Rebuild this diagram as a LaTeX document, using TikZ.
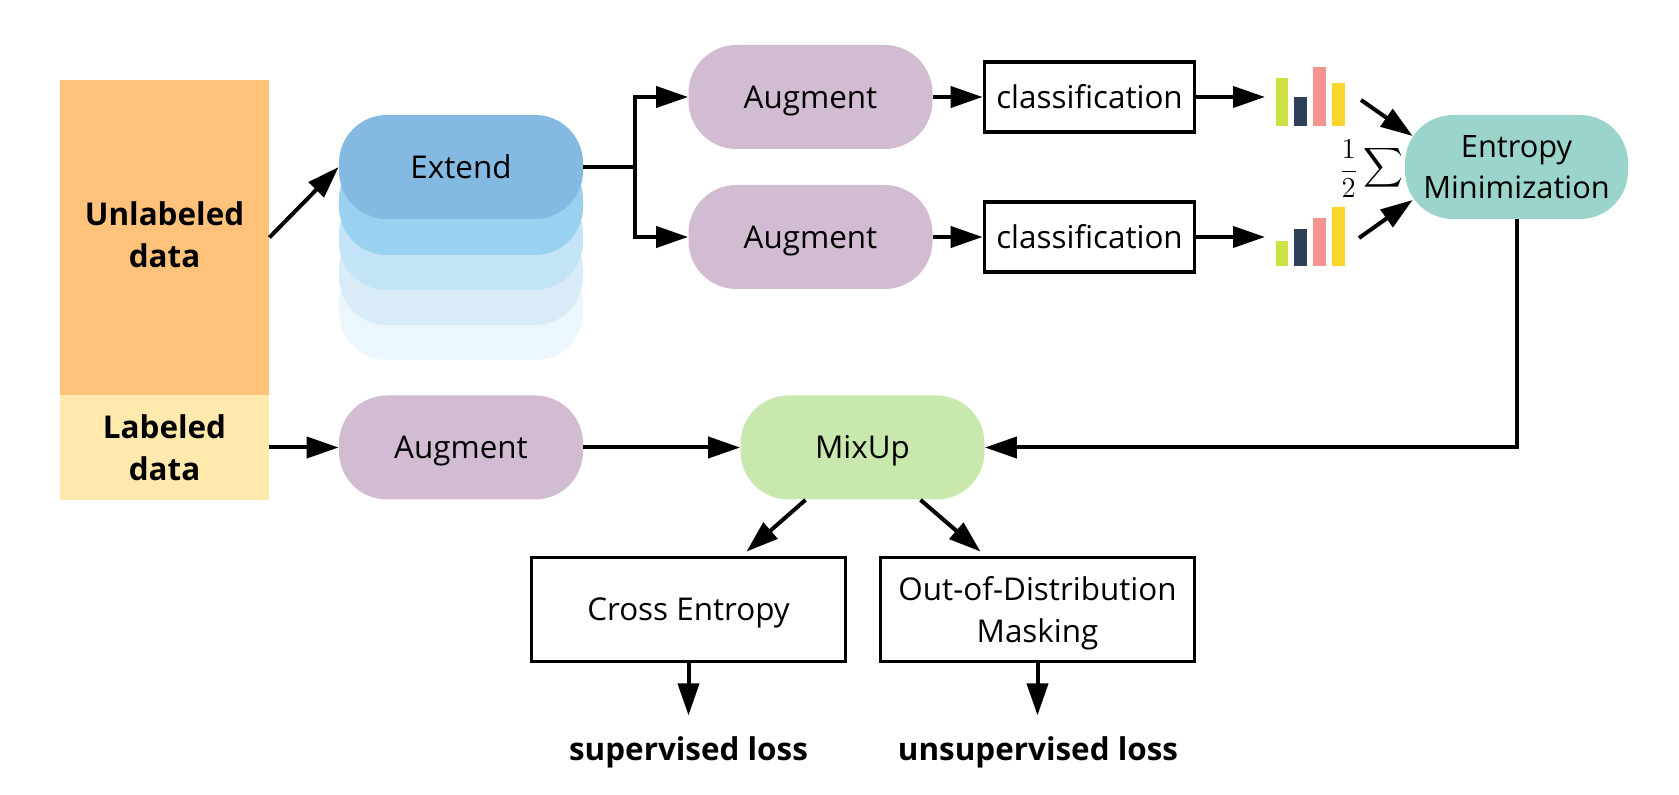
\documentclass[tikz,border=0pt]{standalone}
\usepackage{fontspec}
\usepackage{graphicx}
\setmainfont{Open Sans}
\usetikzlibrary{arrows.meta,calc}
\definecolor{cUnl}{HTML}{FFC27A}
\definecolor{cLab}{HTML}{FFE9AC}
\definecolor{cExt}{HTML}{84B9E1}
\definecolor{cLa}{HTML}{9AD0F0}
\definecolor{cLb}{HTML}{C3E3F6}
\definecolor{cLc}{HTML}{D9EBF6}
\definecolor{cLd}{HTML}{EBF6FD}
\definecolor{cAug}{HTML}{D2BCD2}
\definecolor{cEnt}{HTML}{9AD4CA}
\definecolor{cMix}{HTML}{C8E8AE}
\definecolor{bA}{HTML}{CDE143}
\definecolor{bB}{HTML}{2E4057}
\definecolor{bC}{HTML}{F59391}
\definecolor{bD}{HTML}{FBD42E}
\tikzset{
  every node/.style={font=\fontsize{15.7pt}{20.8pt}\selectfont,align=center,inner sep=0pt},
  oneline/.style={text height=11.2pt,text depth=0pt},
  pill/.style={rectangle,rounded corners=24pt,minimum width=122pt,minimum height=52pt},
  datablock/.style={rectangle,minimum width=104.5pt,font=\fontsize{15.7pt}{20.8pt}\selectfont\bfseries},
  classbox/.style={rectangle,draw=black,line width=1.9pt,minimum width=105pt,minimum height=35pt,oneline},
  lossbox/.style={rectangle,draw=black,line width=1.9pt,minimum width=157pt,minimum height=52pt},
  losslabel/.style={font=\fontsize{15.7pt}{20.8pt}\selectfont\bfseries,oneline},
  conn/.style={line width=2pt,-{Triangle[length=16pt,width=10.5pt]}},
  plainline/.style={line width=2pt},
}
\begin{document}
\begin{tikzpicture}[x=.5pt,y=-.5pt]
\useasboundingbox[fill=white] (0,0) rectangle (1679,795);
% data blocks
\node[datablock,fill=cUnl,minimum height=157.5pt,text depth=3pt] (unl) at (164.5,237.5) {Unlabeled\\data};
\node[datablock,fill=cLab,minimum height=52.5pt] (lab) at (164.5,447.5) {Labeled\\data};
% extend stack
\node[pill,fill=cLd] (l4) at (461,308) {};
\node[pill,fill=cLc] (l3) at (461,273) {};
\node[pill,fill=cLb] (l2) at (461,238) {};
\node[pill,fill=cLa] (l1) at (461,203) {};
\node[pill,fill=cExt,oneline] (ext) at (461,167) {Extend};
% augment
\node[pill,fill=cAug,oneline] (aug1) at (810.5,97) {Augment};
\node[pill,fill=cAug,oneline] (aug2) at (810.5,237) {Augment};
\node[pill,fill=cAug,oneline] (aug3) at (461,447.5) {Augment};
% classification
\node[classbox] (cl1) at (1089.5,97) {classification};
\node[classbox] (cl2) at (1089.5,237) {classification};
% bars
\fill[bA] (1276,78) rectangle (1288,126);
\fill[bB] (1294,97) rectangle (1307,126);
\fill[bC] (1313,67) rectangle (1326,126);
\fill[bD] (1332,83) rectangle (1345,126);
\fill[bA] (1276,241) rectangle (1288,266);
\fill[bB] (1294,229) rectangle (1307,266);
\fill[bC] (1313,218) rectangle (1326,266);
\fill[bD] (1332,207) rectangle (1345,266);
\coordinate (h1) at (1265,97);
\coordinate (h2) at (1265,237);
% entropy
\node[pill,fill=cEnt,minimum width=111.5pt,font=\fontsize{15.4pt}{20.8pt}\selectfont] (ent) at (1516.5,167) {Entropy\\Minimization};
\node[font=\fontsize{14pt}{16pt}\selectfont] (sum) at (1371,169) {$\displaystyle\frac{1}{2}$\hspace{2.5pt}\scalebox{1.38}{$\displaystyle\sum$}};
% mixup
\node[pill,fill=cMix,oneline] (mix) at (862.5,447.5) {MixUp};
% loss boxes
\node[lossbox,oneline] (ce) at (688.5,609.5) {Cross Entropy};
\node[lossbox,text depth=0pt] (ood) at (1037.5,609.5) {Out-of-Distribution\\Masking};
\node[losslabel] (sup) at (688.5,749) {supervised loss};
\node[losslabel] (uns) at (1038,749) {unsupervised loss};
% connectors
\draw[conn] (unl.east) -- (ext.west);
\coordinate (j) at (635,167);
\draw[plainline] (ext.east) -- (j);
\draw[conn] (j) |- (aug1.west);
\draw[conn] (j) |- (aug2.west);
\draw[conn] (aug1.east) -- (cl1.west);
\draw[conn] (aug2.east) -- (cl2.west);
\draw[conn] (cl1.east) -- (h1);
\draw[conn] (cl2.east) -- (h2);
\coordinate (b1) at (1361,100);
\coordinate (b2) at (1359,238);
\draw[conn] (b1) -- ($(ent.west)+(8,-31)$);
\draw[conn] (b2) -- ($(ent.west)+(8,33)$);
\draw[conn] (ent.south) |- (mix.east);
\draw[conn] (lab.east) -- (aug3.west);
\draw[conn] (aug3.east) -- (mix.west);
\draw[conn] ($(mix.south)+(-57,0)$) -- ($(ce.north)+(58,-4)$);
\draw[conn] ($(mix.south)+(58,0)$) -- ($(ood.north)+(-57,-4)$);
\draw[conn] (ce.south) -- ($(ce.south)+(0,52)$);
\draw[conn] (ood.south) -- ($(ood.south)+(0,52)$);
\end{tikzpicture}
\end{document}
